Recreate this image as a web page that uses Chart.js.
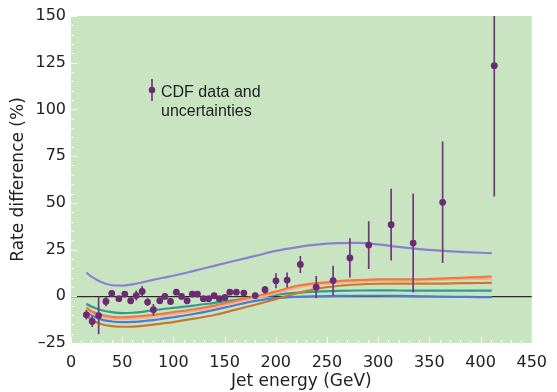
<!DOCTYPE html>
<html><head><meta charset="utf-8">
<script src="https://cdn.jsdelivr.net/npm/chart.js@4/dist/chart.umd.min.js"></script>
<style>html,body{margin:0;padding:0;background:#fff}#wrap{width:557px;height:392px}</style>
</head><body><div id="wrap"><canvas id="c" width="557" height="392"></canvas></div>
<script>
// ---- data ----
const energy   = [15, 20.7, 27, 34.1, 39.8, 46.8, 52.5, 58.3, 63.7, 69.5, 74.8, 80.5, 86.7, 91.7, 97.2, 102.9, 108, 113.4, 118.5, 123.5, 129.3, 134.4, 139.8, 144.9, 150.3, 155.1, 161.5, 168.8, 179.9, 189.5, 200.2, 211.1, 224, 239.5, 256, 272.4, 290.8, 312.7, 334.2, 363, 413.4];
const rateDiff = [-9.9, -13.5, -10.3, -2.8, 1.5, -1.3, 1.2, -2.4, 0.4, 2.6, -3.1, -7.2, -2.4, -0.1, -2.8, 2.2, -0.1, -2.4, 1.2, 1.2, -1.3, -1.3, 0.3, -1.3, -0.6, 2.2, 2.2, 1.7, 0.4, 3.5, 8.3, 8.7, 17, 4.9, 8.4, 20.5, 27.4, 38.3, 28.5, 50.3, 123.4];
const rateErr  = [2.5, 3, 10, 2.5, 1.5, 1.5, 1.5, 1.5, 2.7, 2.9, 2, 3.1, 1.5, 1.5, 1.5, 1.5, 1.2, 1.2, 1.2, 1.2, 1.2, 1.2, 1.2, 1.2, 1.2, 1.2, 1.2, 1.2, 1.5, 2, 4, 4, 4.6, 6, 8, 10.5, 12.8, 19.2, 26.5, 32.5, 70];

const theoryX      = [15, 20, 30, 40, 50, 60, 70, 80, 90, 100, 120, 140, 160, 180, 200, 220, 240, 260, 280, 300, 320, 340, 360, 380, 400, 411];
const theoryPurple = [12.7, 10.5, 7.5, 5.9, 5.7, 6.4, 7.5, 8.8, 9.9, 11, 13.6, 16.3, 19, 21.6, 24.3, 26.2, 27.6, 28.4, 28.6, 27.8, 26.4, 25.2, 24.4, 23.8, 23.3, 23.1];
const theoryOrange = [-6, -8, -10, -11, -11.3, -11, -10.5, -10, -9.3, -8.5, -7, -5, -2.5, 0, 2.5, 5.5, 7, 8, 8.6, 9, 9, 9.1, 9.4, 9.9, 10.3, 10.6];
const theoryPeach  = [-7, -9, -11, -12, -12.3, -12, -11.5, -11, -10.3, -9.5, -8, -6, -3.5, -1, 1.5, 4.5, 6.2, 7.2, 7.8, 8.2, 8.3, 8.5, 8.8, 9.1, 9.3, 9.4];
const theoryBrown  = [-10, -12.5, -15, -16, -16.3, -16.2, -15.8, -15.2, -14.5, -13.8, -12, -10, -7.3, -4.5, -1.5, 1.5, 4, 5.5, 6.3, 6.7, 6.8, 6.8, 6.8, 7, 7.1, 7.2];
const theoryTeal   = [-4, -5.5, -7.5, -8.5, -9, -8.8, -8.3, -7.5, -6.8, -6.2, -5, -3.5, -2, -0.5, 0.8, 1.8, 2.5, 2.9, 3.1, 3.2, 3.1, 3, 3, 3, 3, 3];
const theoryBlue   = [-8, -10, -12.5, -13.5, -13.8, -13.7, -13.3, -12.8, -12, -11.2, -9.5, -7.3, -4.8, -2.5, -1, -0.3, 0, 0.2, 0.3, 0.3, 0.2, 0, -0.2, -0.3, -0.4, -0.5];

const xTickValues = [0, 50, 100, 150, 200, 250, 300, 350, 400, 450];
const yTickValues = [-25, 0, 25, 50, 75, 100, 125, 150];
const yTickLabels = ['\u201325', '0', '25', '50', '75', '100', '125', '150'];
const legendLines = ['CDF data and', 'uncertainties'];

// ---- styles ----
const PLOT_BG = 'rgb(201,228,193)';
const DATA_COL = '#6c2a72';
const ERR_COL = '#6e3a7a';
const FONT = "'DejaVu Sans', sans-serif";

const pts = energy.map((x, i) => ({x, y: rateDiff[i]}));
const curve = ys => theoryX.map((x, i) => ({x, y: ys[i]}));
const lineDs = (ys, col) => ({type: 'line', data: curve(ys), borderColor: col, borderWidth: 2.2,
  pointRadius: 0, fill: false, cubicInterpolationMode: 'monotone'});

const bgPlugin = {
  id: 'bg',
  beforeDraw(chart) {
    const {ctx, chartArea: a} = chart;
    ctx.save(); ctx.fillStyle = PLOT_BG;
    ctx.fillRect(a.left, a.top, a.right - a.left, a.bottom - a.top);
    ctx.restore();
  }
};

const errPlugin = {
  id: 'errbars',
  beforeDatasetDraw(chart, args) {
    if (args.index !== 0) return;
    const {ctx, scales: {x, y}, chartArea: a} = chart;
    ctx.save();
    ctx.beginPath(); ctx.rect(a.left, a.top, a.right - a.left, a.bottom - a.top); ctx.clip();
    ctx.strokeStyle = ERR_COL; ctx.lineWidth = 1.7;
    energy.forEach((e, i) => {
      const px = x.getPixelForValue(e);
      ctx.beginPath();
      ctx.moveTo(px, y.getPixelForValue(rateDiff[i] - rateErr[i]));
      ctx.lineTo(px, y.getPixelForValue(rateDiff[i] + rateErr[i]));
      ctx.stroke();
    });
    ctx.restore();
  }
};

const tickPlugin = {
  id: 'innerTicks',
  afterDatasetsDraw(chart) {
    const {ctx, scales: {x, y}, chartArea: a} = chart;
    ctx.save(); ctx.strokeStyle = 'rgba(255,255,255,0.9)'; ctx.lineWidth = 1;
    for (let v = -25; v <= 150; v += 5) {
      const py = Math.round(y.getPixelForValue(v)) + 0.5;
      const len = (v % 25 === 0) ? 6 : 3;
      ctx.beginPath(); ctx.moveTo(a.left, py); ctx.lineTo(a.left + len, py); ctx.stroke();
    }
    for (let v = 0; v <= 450; v += 10) {
      const px = Math.round(x.getPixelForValue(v)) + 0.5;
      const len = (v % 50 === 0) ? 6 : 3;
      ctx.beginPath(); ctx.moveTo(px, a.bottom); ctx.lineTo(px, a.bottom - len); ctx.stroke();
    }
    ctx.restore();
  }
};

const legendPlugin = {
  id: 'legendText',
  afterDraw(chart) {
    const {ctx, chartArea: a} = chart;
    const mx = a.left + 81, my = a.top + 74;
    ctx.save();
    ctx.strokeStyle = ERR_COL; ctx.lineWidth = 1.7;
    ctx.beginPath(); ctx.moveTo(mx, my - 11); ctx.lineTo(mx, my + 11); ctx.stroke();
    ctx.fillStyle = DATA_COL;
    ctx.beginPath(); ctx.arc(mx, my, 3.2, 0, Math.PI * 2); ctx.fill();
    ctx.fillStyle = '#1e1e1e';
    ctx.font = "16px 'Liberation Sans', Arial, sans-serif";
    ctx.textBaseline = 'alphabetic'; ctx.textAlign = 'left';
    ctx.fillText(legendLines[0], a.left + 90, a.top + 81);
    ctx.fillText(legendLines[1], a.left + 90, a.top + 100);
    ctx.restore();
  }
};

new Chart(document.getElementById('c'), {
  type: 'scatter',
  data: {
    datasets: [
      {type: 'scatter', data: pts, backgroundColor: DATA_COL, borderColor: DATA_COL, pointRadius: 3.4, borderWidth: 0},
      lineDs(theoryPurple, '#8a80d2'),
      lineDs(theoryOrange, '#f07a3c'),
      lineDs(theoryPeach, '#f2b29a'),
      lineDs(theoryBrown, '#c9782f'),
      lineDs(theoryTeal, '#2f9c8e'),
      lineDs(theoryBlue, '#4b7bd6')
    ]
  },
  options: {
    responsive: false, animation: false, devicePixelRatio: 1,
    layout: {padding: {top: 16, right: 15, left: 0, bottom: 0}},
    plugins: {legend: {display: false}, tooltip: {enabled: false}},
    scales: {
      x: {
        type: 'linear', min: 0, max: 450,
        afterBuildTicks: s => { s.ticks = xTickValues.map(v => ({value: v})); },
        afterFit: s => { s.height = 49; },
        grid: {display: false, drawTicks: false},
        border: {display: false},
        ticks: {font: {family: FONT, size: 16}, color: '#222', padding: 10, maxRotation: 0, autoSkip: false},
        title: {display: true, text: 'Jet energy (GeV)', font: {family: FONT, size: 17}, color: '#222', padding: {top: 0, bottom: 0}}
      },
      y: {
        type: 'linear', min: -25, max: 150,
        afterBuildTicks: s => { s.ticks = yTickValues.map(v => ({value: v})); },
        afterFit: s => { s.width = 71; },
        grid: {drawTicks: false, lineWidth: 1.3, color: c => (c.tick && c.tick.value === 0) ? '#2b2b2b' : 'rgba(0,0,0,0)'},
        border: {display: false},
        ticks: {font: {family: FONT, size: 16}, color: '#222', padding: 5, autoSkip: false,
          callback: v => yTickLabels[yTickValues.indexOf(v)]},
        title: {display: true, text: 'Rate difference (%)', font: {family: FONT, size: 17}, color: '#222', padding: {top: 8, bottom: 0}}
      }
    }
  },
  plugins: [bgPlugin, errPlugin, tickPlugin, legendPlugin]
});
</script>
</body></html>
